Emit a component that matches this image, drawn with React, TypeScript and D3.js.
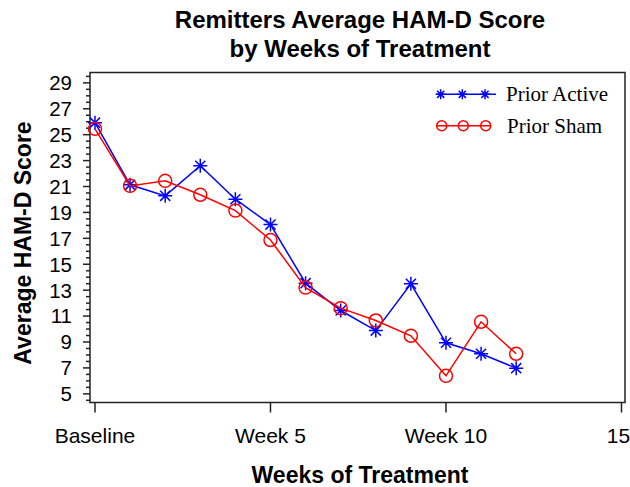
import React from "react";
import * as d3 from "d3";

const weeks = [0, 1, 2, 3, 4, 5, 6, 7, 8, 9, 10, 11, 12];
const priorActive = [25.93, 21.13, 20.28, 22.6, 20.02, 18.06, 13.54, 11.43, 9.88, 13.49, 8.94, 8.09, 6.98];
const priorSham = [25.45, 21.05, 21.44, 20.36, 19.14, 16.87, 13.2, 11.61, 10.66, 9.48, 6.39, 10.56, 8.09];
const xTickValues = [0, 5, 10, 15];
const xTickLabels = ["Baseline", "Week 5", "Week 10", "15"];
const yTickValues = [5, 7, 9, 11, 13, 15, 17, 19, 21, 23, 25, 27, 29];
const seriesNames = ["Prior Active", "Prior Sham"];

const W = 630;
const H = 487;
const left = 90, right = 625, top = 72.5, bottom = 402.5;

export default function App() {
  const x = d3.scaleLinear().domain([-0.142, 15.1]).range([left, right]);
  const y = d3.scaleLinear().domain([4.33, 29.8]).range([bottom, top]);
  const line = d3
    .line<[number, number]>()
    .x((d) => x(d[0]))
    .y((d) => y(d[1]));
  const activePts: [number, number][] = weeks.map((w, i) => [w, priorActive[i]]);
  const shamPts: [number, number][] = weeks.map((w, i) => [w, priorSham[i]]);
  const minorTicks = d3.range(4.5, 29.76, 0.5);

  const star = (cx: number, cy: number, s: number, key: string | number) => {
    const d = s * 0.72;
    return (
      <path
        key={key}
        d={`M${cx},${cy - s}L${cx},${cy + s}M${cx - s},${cy}L${cx + s},${cy}M${cx - d},${cy - d}L${cx + d},${cy + d}M${cx - d},${cy + d}L${cx + d},${cy - d}`}
        stroke="#0000ff"
        strokeWidth={1.5}
        fill="none"
      />
    );
  };

  const sans = "'Liberation Sans', Arial, Helvetica, sans-serif";
  const serif = "'Liberation Serif', 'Times New Roman', serif";

  return (
    <svg
      width={W}
      height={H}
      style={{ position: "absolute", left: 0, top: 0, background: "#fff" }}
    >
      <rect x={0} y={0} width={W} height={H} fill="#fff" />
      {/* title */}
      <text x={360} y={28} textAnchor="middle" fontFamily={sans} fontWeight="bold" fontSize={24}>
        Remitters Average HAM-D Score
      </text>
      <text x={360} y={57} textAnchor="middle" fontFamily={sans} fontWeight="bold" fontSize={24}>
        by Weeks of Treatment
      </text>

      {/* frame */}
      <rect x={left} y={top} width={right - left} height={bottom - top} fill="none" stroke="#222" strokeWidth={1.5} />

      {/* y ticks */}
      {minorTicks.map((v) => {
        const major = Number.isInteger(v) && Math.abs((v - 5) % 2) < 1e-6;
        return (
          <line key={`yt${v}`} x1={left} x2={left - (major ? 7 : 4)} y1={y(v)} y2={y(v)} stroke="#222" strokeWidth={1.5} />
        );
      })}
      {yTickValues.map((v) => (
        <text key={`yl${v}`} x={72} y={y(v)} dy="0.36em" textAnchor="end" fontFamily={sans} fontSize={20.5}>
          {v}
        </text>
      ))}

      {/* x ticks */}
      {xTickValues.map((v, i) => (
        <g key={`xt${v}`}>
          <line x1={x(v)} x2={x(v)} y1={bottom} y2={bottom + 10} stroke="#222" strokeWidth={1.5} />
          <text x={i === 3 ? x(v) - 3 : x(v)} y={443} textAnchor="middle" fontFamily={sans} fontSize={21}>
            {xTickLabels[i]}
          </text>
        </g>
      ))}

      {/* axis titles */}
      <text x={360} y={483} textAnchor="middle" fontFamily={sans} fontWeight="bold" fontSize={23}>
        Weeks of Treatment
      </text>
      <text
        transform={`translate(31,243) rotate(-90)`}
        textAnchor="middle"
        fontFamily={sans}
        fontWeight="bold"
        fontSize={23}
      >
        Average HAM-D Score
      </text>

      {/* series */}
      <path d={line(activePts) || ""} fill="none" stroke="#0000ff" strokeWidth={1.5} />
      {activePts.map((p, i) => star(x(p[0]), y(p[1]), 7, `s${i}`))}
      <path d={line(shamPts) || ""} fill="none" stroke="#ff0000" strokeWidth={1.5} />
      {shamPts.map((p, i) => (
        <circle key={`c${i}`} cx={x(p[0])} cy={y(p[1])} r={6.5} fill="none" stroke="#ff0000" strokeWidth={1.5} />
      ))}

      {/* legend */}
      <g>
        <line x1={436} x2={496} y1={94.3} y2={94.3} stroke="#0000ff" strokeWidth={1.5} />
        {[440.7, 462.3, 485].map((cx, i) => star(cx, 94.3, 5, `ls${i}`))}
        <text x={506} y={94.3} dy="0.33em" fontFamily={serif} fontSize={21}>
          {seriesNames[0]}
        </text>
        <line x1={436} x2={491} y1={125.7} y2={125.7} stroke="#ff0000" strokeWidth={1.5} />
        {[441.7, 463.3, 485.7].map((cx, i) => (
          <circle key={`lc${i}`} cx={cx} cy={125.7} r={5} fill="none" stroke="#ff0000" strokeWidth={1.5} />
        ))}
        <text x={507} y={125.7} dy="0.33em" fontFamily={serif} fontSize={21}>
          {seriesNames[1]}
        </text>
      </g>
    </svg>
  );
}
